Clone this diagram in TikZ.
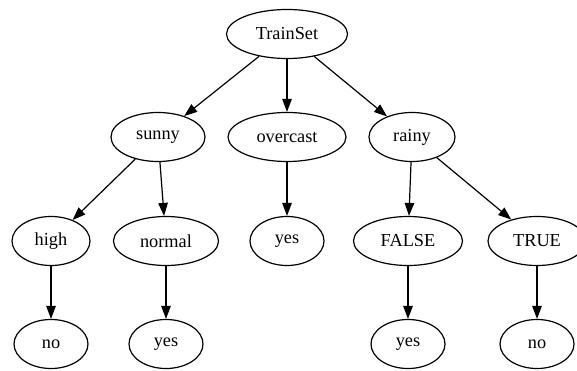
\documentclass[tikz,border=0pt]{standalone}
\usepackage{fontspec}
\setmainfont{Liberation Serif}
\usetikzlibrary{shapes.geometric,arrows.meta}
\begin{document}
\begin{tikzpicture}[x=1pt,y=-1pt,>={Triangle[length=13pt,width=9.5pt]},
  font=\fontsize{18.3}{22}\selectfont, line join=round,
  dt/.style={ellipse,draw,line width=1.2pt,inner sep=0pt,minimum height=49pt}]
\clip (0,0) rectangle (577,371);
\path
(287,34) node[dt,minimum width=121pt] (T) {TrainSet}
(158,137) node[dt,minimum width=94pt] (S) {sunny}
(287,137) node[dt,minimum width=118pt] (O) {overcast}
(412,137) node[dt,minimum width=86pt] (R) {rainy}
(51,241) node[dt,minimum width=78pt] (H) {high}
(166,241) node[dt,minimum width=105pt] (N) {normal}
(287,241) node[dt,minimum width=74pt] (Y) {yes}
(408,241) node[dt,minimum width=109pt] (F) {FALSE}
(537,241) node[dt,minimum width=98pt] (U) {TRUE}
(51,344) node[dt,minimum width=74pt] (HN) {no}
(166,344) node[dt,minimum width=74pt] (NY) {yes}
(408,344) node[dt,minimum width=74pt] (FY) {yes}
(537,344) node[dt,minimum width=74pt] (UN) {no}
;
\foreach \a/\b in{T/S,T/O,T/R,S/H,S/N,O/Y,R/F,R/U,H/HN,N/NY,F/FY,U/UN}
\draw[->,line width=1.2pt] (\a)--(\b);
\end{tikzpicture}
\end{document}
